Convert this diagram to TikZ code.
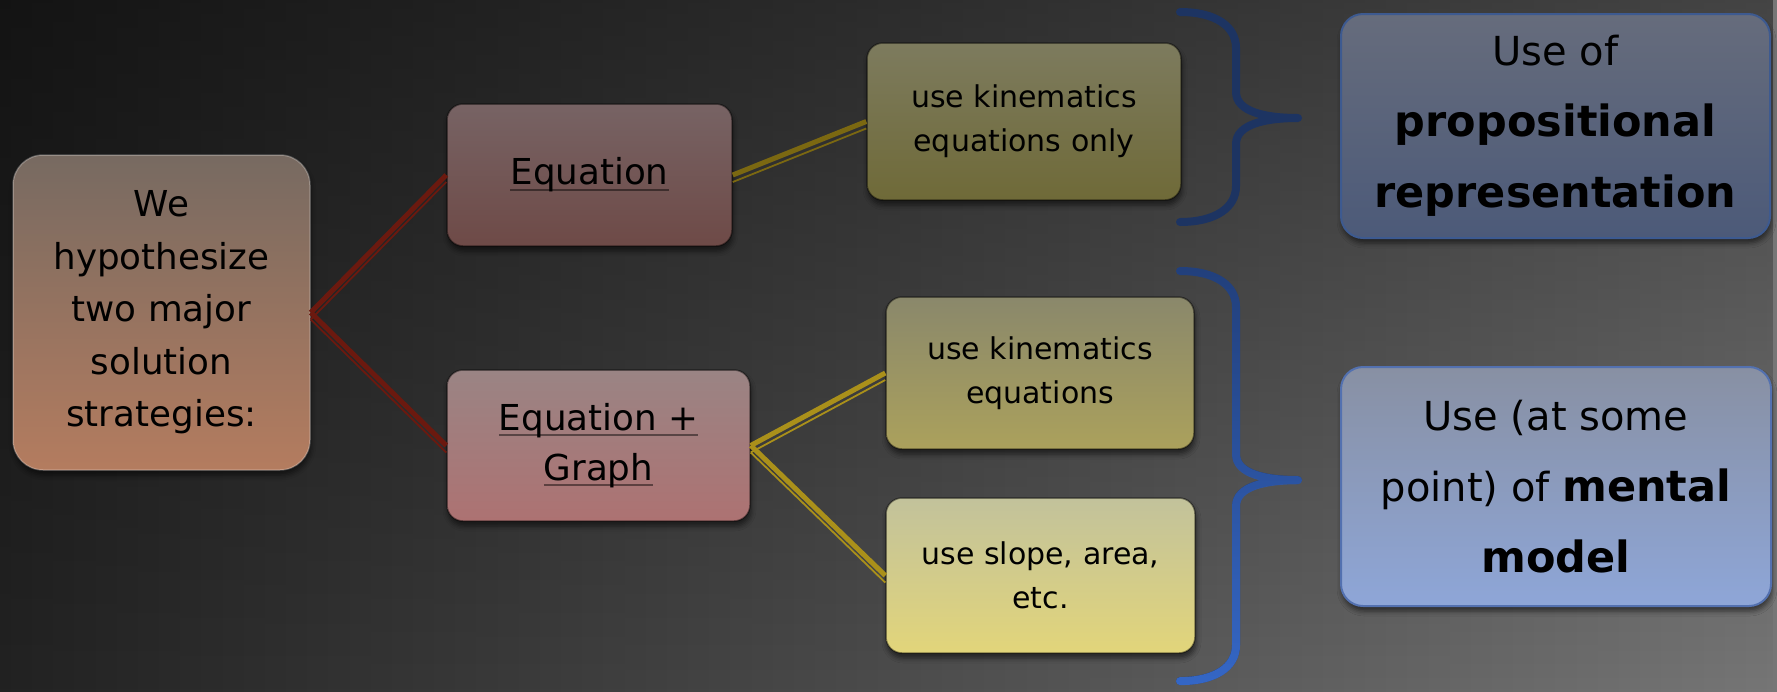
\documentclass[tikz,border=0pt]{standalone}
\usepackage{fontspec}
\setmainfont{DejaVu Sans}
\usetikzlibrary{shadows.blur,fadings}

\definecolor{bgdark}{HTML}{222222}
\definecolor{bgmid}{HTML}{5C5C5C}
\definecolor{bglight}{HTML}{767676}
\definecolor{linkred}{HTML}{6B190F}
\definecolor{linkolive}{HTML}{7B6811}
\definecolor{linkgold}{HTML}{AA901A}
\definecolor{bracenavy}{HTML}{1D3462}
\definecolor{braceblue}{HTML}{22407C}
\definecolor{bracesky}{HTML}{3567C6}

\newcommand{\uln}[1]{\setbox0\hbox{#1}\rlap{\rule[-0.17em]{\wd0}{0.055em}}\box0}
\newcommand{\bfbig}[1]{{\bfseries\fontsize{43}{71}\selectfont #1}}

\tikzset{
  box/.style={
    rectangle, rounded corners=16pt, draw=black, draw opacity=0.45,
    line width=1.5pt, align=center, inner sep=0pt, text=black,
    blur shadow={shadow xshift=1pt, shadow yshift=-5pt,
      shadow blur radius=5pt, shadow opacity=55}
  },
  hyp box/.style={
    box, rounded corners=30pt, minimum width=297, minimum height=315,
    draw=white, draw opacity=0.25,
    top color={rgb,255:red,119;green,106;blue,97},
    bottom color={rgb,255:red,180;green,124;blue,95},
    font=\fontsize{35.7}{52.5}\selectfont
  },
  way box/.style={
    box, font=\fontsize{35.7}{50}\selectfont
  },
  use box/.style={
    box, font=\fontsize{30}{44}\selectfont
  },
  rep box/.style={
    box, rounded corners=22pt, line width=2pt, draw opacity=1,
    font=\fontsize{40}{71}\selectfont
  },
  link/.style={line width=5pt},
  link thin/.style={line width=1.8pt, transform canvas={yshift=-7pt}},
  brace line/.style={line width=8pt, line cap=round, line join=round}
}

\begin{document}
\begin{tikzpicture}[x=1pt, y=-1pt]
\useasboundingbox (0,0) rectangle (1777,691);

% background
\shade[left color=bgdark, middle color=bgmid, right color=bglight]
  (0,0) rectangle (1777,691);
\fill[black, opacity=0.42, path fading=south] (0,0) rectangle (1777,691);

% left: the hypothesis
\node[hyp box] (hyp) at (161.5,312.5)
  {We\\hypothesize\\two major\\solution\\strategies:};

% middle: the two strategies
\node[way box, minimum width=285, minimum height=142,
  top color={rgb,255:red,119;green,99;blue,100},
  bottom color={rgb,255:red,110;green,74;blue,71}]
  (eq) at (589.5,175) {\uln{Equation}};
\node[way box, minimum width=303, minimum height=151,
  top color={rgb,255:red,154;green,132;blue,132},
  bottom color={rgb,255:red,173;green,114;blue,114}]
  (eqg) at (598.5,445.5) {\uln{Equation +}\\\uln{Graph}};

% right of the strategies: what is used
\node[use box, minimum width=314, minimum height=157,
  top color={rgb,255:red,125;green,123;blue,94},
  bottom color={rgb,255:red,111;green,106;blue,56}]
  (kinA) at (1024,121.5) {use kinematics\\equations only};
\node[use box, minimum width=308, minimum height=152,
  top color={rgb,255:red,138;green,136;blue,107},
  bottom color={rgb,255:red,171;green,161;blue,92}]
  (kinB) at (1040,373) {use kinematics\\equations};
\node[use box, minimum width=309, minimum height=155,
  top color={rgb,255:red,194;green,194;blue,155},
  bottom color={rgb,255:red,226;green,213;blue,122}]
  (slope) at (1040.5,575.5) {use slope, area,\\etc.};

% far right: the representations
\node[rep box, minimum width=429, minimum height=224,
  draw={rgb,255:red,61;green,90;blue,144},
  top color={rgb,255:red,102;green,108;blue,124},
  bottom color={rgb,255:red,76;green,90;blue,121}]
  (prop) at (1555.5,126) {Use of\\\bfbig{propositional}\\\bfbig{representation}};
\node[rep box, minimum width=430, minimum height=239,
  draw={rgb,255:red,83;green,113;blue,176},
  top color={rgb,255:red,136;green,144;blue,163},
  bottom color={rgb,255:red,142;green,166;blue,216}]
  (ment) at (1556,486.5) {Use (at some\\point) of \bfbig{mental}\\\bfbig{model}};

% links
\draw[link, linkred] (hyp.east) -- (eq.west);
\draw[link thin, linkred] (hyp.east) -- (eq.west);
\draw[link, linkred] (hyp.east) -- (eqg.west);
\draw[link thin, linkred] (hyp.east) -- (eqg.west);
\draw[link, linkolive] (eq.east) -- (kinA.west);
\draw[link thin, linkolive] (eq.east) -- (kinA.west);
\draw[link, linkgold] (eqg.east) -- (kinB.west);
\draw[link thin, linkgold] (eqg.east) -- (kinB.west);
\draw[link, linkgold] (eqg.east) -- (slope.west);
\draw[link thin, linkgold] (eqg.east) -- (slope.west);

% braces
\draw[brace line, bracenavy] (1180,12) .. controls +(35,0) and +(0,-22) .. (1236,48)
  -- (1236,92) .. controls +(0,20) and +(-32,0) .. (1298,118)
  .. controls +(-32,0) and +(0,-20) .. (1236,144)
  -- (1236,186) .. controls +(0,22) and +(35,0) .. (1180,222);
\draw[brace line, braceblue] (1180,271) .. controls +(35,0) and +(0,-22) .. (1236,307)
  -- (1236,454) .. controls +(0,20) and +(-32,0) .. (1298,480)
  .. controls +(-32,0) and +(0,-20) .. (1236,506)
  -- (1236,645) .. controls +(0,22) and +(35,0) .. (1180,681);
\draw[brace line, bracesky, path fading=north] (1180,271) .. controls +(35,0) and +(0,-22) .. (1236,307)
  -- (1236,454) .. controls +(0,20) and +(-32,0) .. (1298,480)
  .. controls +(-32,0) and +(0,-20) .. (1236,506)
  -- (1236,645) .. controls +(0,22) and +(35,0) .. (1180,681);

\end{tikzpicture}
\end{document}
